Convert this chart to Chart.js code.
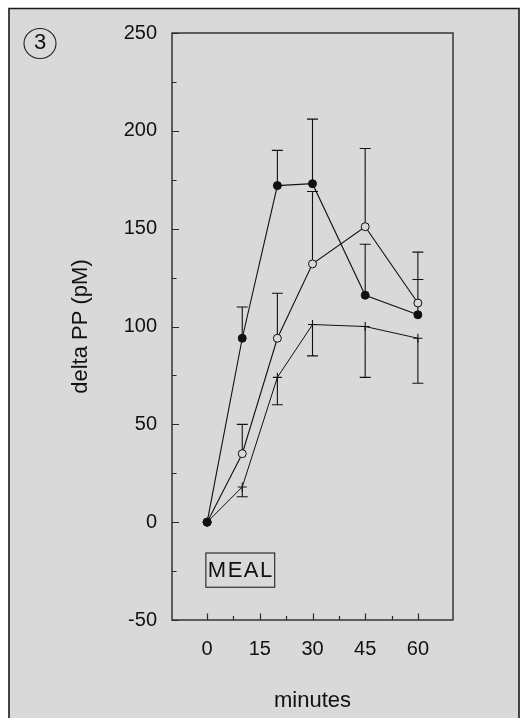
<!DOCTYPE html>
<html>
<head>
<meta charset="utf-8">
<script src="https://cdn.jsdelivr.net/npm/chart.js@4/dist/chart.umd.min.js"></script>
<style>
  html, body { margin: 0; padding: 0; background: #fff; }
  #c { display: block; }
</style>
</head>
<body>
<canvas id="c" width="521" height="718"></canvas>
<script>
// Time points (minutes after the meal)
const minutes = [0, 10, 20, 30, 45, 60];

// Filled circles: mean and upper SE bound
const filledMean  = [0, 94, 172, 173, 116, 106];
const filledUpper = [null, 110, 190, 206, 142, 124];

// Open circles: mean and upper SE bound
const openMean  = [0, 35, 94, 132, 151, 112];
const openUpper = [null, 50, 117, 169, 191, 138];

// Crosses: mean and lower SE bound
const crossMean  = [0, 18, 74, 101, 100, 94];
const crossLower = [null, 13, 60, 85, 74, 71];

// Axis ticks
const xTickValues = [0, 15, 30, 45, 60];
const xMinorValues = [7.5, 22.5, 37.5, 52.5];
const yTickValues = [-50, 0, 50, 100, 150, 200, 250];
const yMinorValues = [-25, 25, 75, 125, 175, 225];

const FONT = '"Liberation Sans", Arial, Helvetica, sans-serif';
const INK = '#111';
const PANEL = '#d9d9d9';

const toPoints = (ys) => minutes.map((m, i) => ({ x: m, y: ys[i] }));

// Background panel, plot frame, inward ticks, error bars
const decorPlugin = {
  id: 'decor',
  beforeDraw(chart) {
    const ctx = chart.ctx;
    ctx.save();
    ctx.fillStyle = '#fff';
    ctx.fillRect(0, 0, chart.width, chart.height);
    ctx.fillStyle = PANEL;
    ctx.fillRect(9, 9, 510, chart.height);
    ctx.strokeStyle = '#1a1a1a';
    ctx.lineWidth = 1.6;
    ctx.beginPath();
    ctx.moveTo(9, chart.height + 2);
    ctx.lineTo(9, 8.5);
    ctx.lineTo(519, 8.5);
    ctx.lineTo(519, chart.height + 2);
    ctx.stroke();
    ctx.restore();
  },
  beforeDatasetsDraw(chart) {
    const ctx = chart.ctx;
    const { x, y } = chart.scales;
    const a = chart.chartArea;
    ctx.save();
    // plot frame
    ctx.strokeStyle = '#2a2a2a';
    ctx.lineWidth = 1.4;
    ctx.strokeRect(a.left, a.top, a.right - a.left, a.bottom - a.top);
    // y ticks (inward)
    ctx.lineWidth = 1.2;
    ctx.beginPath();
    yTickValues.forEach(v => {
      const py = Math.round(y.getPixelForValue(v)) + 0.5;
      ctx.moveTo(a.left, py); ctx.lineTo(a.left + 7, py);
    });
    yMinorValues.forEach(v => {
      const py = Math.round(y.getPixelForValue(v)) + 0.5;
      ctx.moveTo(a.left, py); ctx.lineTo(a.left + 4.5, py);
    });
    // x ticks (inward)
    xTickValues.forEach(v => {
      const px = Math.round(x.getPixelForValue(v)) + 0.5;
      ctx.moveTo(px, a.bottom); ctx.lineTo(px, a.bottom - 6.5);
    });
    xMinorValues.forEach(v => {
      const px = Math.round(x.getPixelForValue(v)) + 0.5;
      ctx.moveTo(px, a.bottom); ctx.lineTo(px, a.bottom - 4);
    });
    ctx.stroke();

    // error bars
    ctx.strokeStyle = INK;
    ctx.lineWidth = 1.1;
    const bars = [
      [filledMean, filledUpper],
      [openMean, openUpper],
      [crossMean, crossLower]
    ];
    const cap = 5.5;
    ctx.beginPath();
    bars.forEach(([mean, bound]) => {
      minutes.forEach((m, i) => {
        if (bound[i] === null) return;
        const px = x.getPixelForValue(m);
        const p0 = y.getPixelForValue(mean[i]);
        const p1 = y.getPixelForValue(bound[i]);
        ctx.moveTo(px, p0); ctx.lineTo(px, p1);
        ctx.moveTo(px - cap, p1); ctx.lineTo(px + cap, p1);
      });
    });
    ctx.stroke();
    ctx.restore();
  },
  afterDraw(chart) {
    const ctx = chart.ctx;
    const { x, y } = chart.scales;
    ctx.save();
    // panel number
    ctx.strokeStyle = '#222';
    ctx.lineWidth = 1.1;
    ctx.beginPath();
    ctx.ellipse(40, 43.5, 16, 15, 0, 0, Math.PI * 2);
    ctx.stroke();
    ctx.fillStyle = INK;
    ctx.font = '22px ' + FONT;
    ctx.textAlign = 'center';
    ctx.textBaseline = 'middle';
    ctx.fillText('3', 40, 43);

    // MEAL label box
    const bx0 = x.getPixelForValue(-0.5);
    const bx1 = x.getPixelForValue(19.1);
    const by0 = y.getPixelForValue(-15.5);
    const by1 = y.getPixelForValue(-33);
    ctx.lineWidth = 1.1;
    ctx.strokeRect(bx0 + 0.5, by0 + 0.5, bx1 - bx0, by1 - by0);
    ctx.font = '22px ' + FONT;
    if ('letterSpacing' in ctx) ctx.letterSpacing = '1.5px';
    ctx.fillText('MEAL', (bx0 + bx1) / 2 + 1, (by0 + by1) / 2 + 1);
    ctx.restore();
  }
};

new Chart(document.getElementById('c'), {
  type: 'line',
  data: {
    datasets: [
      {
        label: 'filled',
        data: toPoints(filledMean),
        borderColor: INK,
        borderWidth: 1.1,
        pointStyle: 'circle',
        pointRadius: 4,
        pointBorderWidth: 1,
        pointBackgroundColor: INK,
        pointBorderColor: INK,
        tension: 0,
        order: 0
      },
      {
        label: 'open',
        data: toPoints(openMean),
        borderColor: INK,
        borderWidth: 1.1,
        pointStyle: 'circle',
        pointRadius: 4,
        pointBorderWidth: 1,
        pointBackgroundColor: PANEL,
        pointBorderColor: INK,
        tension: 0,
        order: 1
      },
      {
        label: 'cross',
        data: toPoints(crossMean),
        borderColor: INK,
        borderWidth: 1,
        pointStyle: 'cross',
        pointRadius: 4.5,
        pointBorderWidth: 1.1,
        pointBackgroundColor: INK,
        pointBorderColor: INK,
        tension: 0,
        order: 2
      }
    ]
  },
  options: {
    responsive: false,
    animation: false,
    devicePixelRatio: 1,
    layout: { padding: { left: 0, top: 33, right: 68, bottom: 0 } },
    plugins: { legend: { display: false }, tooltip: { enabled: false } },
    scales: {
      x: {
        type: 'linear',
        min: -10,
        max: 70,
        grid: { display: false, drawTicks: false },
        border: { display: false },
        afterBuildTicks: (s) => { s.ticks = xTickValues.map(v => ({ value: v })); },
        afterFit: (s) => { s.height = 98; },
        ticks: { padding: 17, color: INK, font: { family: FONT, size: 20 }, maxRotation: 0, autoSkip: false },
        title: { display: true, text: 'minutes', color: INK, font: { family: FONT, size: 22 }, padding: { top: 0, bottom: 3.5 } }
      },
      y: {
        type: 'linear',
        min: -50,
        max: 250,
        grid: { display: false, drawTicks: false },
        border: { display: false },
        afterBuildTicks: (s) => { s.ticks = yTickValues.map(v => ({ value: v })); },
        afterFit: (s) => { s.width = 172; },
        ticks: { padding: 15, color: INK, font: { family: FONT, size: 20 }, autoSkip: false },
        title: { display: true, text: 'delta PP (pM)', color: INK, font: { family: FONT, size: 22 }, padding: { top: 68, bottom: 0 } }
      }
    }
  },
  plugins: [decorPlugin]
});
</script>
</body>
</html>
